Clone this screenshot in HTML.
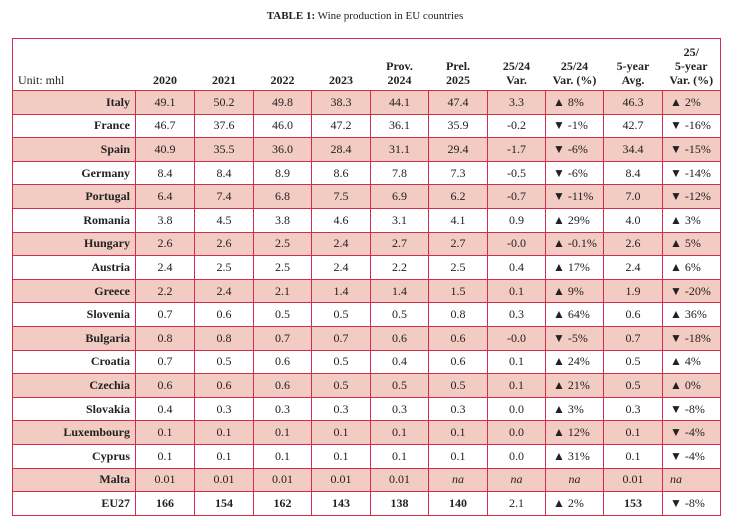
<!DOCTYPE html>
<html><head><meta charset="utf-8"><style>
body{margin:0;width:730px;height:525px;background:#fff;font-family:"Liberation Serif",serif;color:#222;position:relative;overflow:hidden}
.t{position:absolute;top:10px;left:0;width:730px;text-align:center;font-size:11px}
table{position:absolute;left:12px;top:38px;border-collapse:collapse;table-layout:fixed;font-size:12px}
td{border:1.3px solid #d22d4e;height:22.6px;padding:0;text-align:center}
tr.h td{height:48px;border-left:none;border-right:none;vertical-align:bottom;padding-bottom:3px;font-weight:bold;line-height:14px}
tr.h td:first-child{border-left:1.3px solid #d22d4e;text-align:left;font-weight:normal;padding-left:5px}
tr.h td:last-child{border-right:1.3px solid #d22d4e}
td.n{text-align:right;font-weight:bold;padding-right:5px}
td.l{text-align:left;padding-left:7px}
tr.s td{background:#f2cbc2}
tr.h td{background:#fff}
i{font-style:italic}
tr.e td{font-weight:bold}
tr.e td.nb{font-weight:normal}
</style></head><body>
<div class="t"><b>TABLE 1:</b> Wine production in EU countries</div>
<table>
<colgroup><col style="width:123px"><col style="width:59px"><col style="width:59px"><col style="width:58px"><col style="width:59px"><col style="width:58px"><col style="width:59px"><col style="width:58px"><col style="width:58px"><col style="width:59px"><col style="width:58px"></colgroup>
<tr class="h"><td>Unit: mhl</td><td>2020</td><td>2021</td><td>2022</td><td>2023</td><td>Prov.<br>2024</td><td>Prel.<br>2025</td><td>25/24<br>Var.</td><td>25/24<br>Var. (%)</td><td>5-year<br>Avg.</td><td>25/<br>5-year<br>Var. (%)</td></tr>
<tr class="s"><td class="n">Italy</td><td>49.1</td><td>50.2</td><td>49.8</td><td>38.3</td><td>44.1</td><td>47.4</td><td>3.3</td><td class="l">▲ 8%</td><td>46.3</td><td class="l">▲ 2%</td></tr>
<tr><td class="n">France</td><td>46.7</td><td>37.6</td><td>46.0</td><td>47.2</td><td>36.1</td><td>35.9</td><td>-0.2</td><td class="l">▼ -1%</td><td>42.7</td><td class="l">▼ -16%</td></tr>
<tr class="s"><td class="n">Spain</td><td>40.9</td><td>35.5</td><td>36.0</td><td>28.4</td><td>31.1</td><td>29.4</td><td>-1.7</td><td class="l">▼ -6%</td><td>34.4</td><td class="l">▼ -15%</td></tr>
<tr><td class="n">Germany</td><td>8.4</td><td>8.4</td><td>8.9</td><td>8.6</td><td>7.8</td><td>7.3</td><td>-0.5</td><td class="l">▼ -6%</td><td>8.4</td><td class="l">▼ -14%</td></tr>
<tr class="s"><td class="n">Portugal</td><td>6.4</td><td>7.4</td><td>6.8</td><td>7.5</td><td>6.9</td><td>6.2</td><td>-0.7</td><td class="l">▼ -11%</td><td>7.0</td><td class="l">▼ -12%</td></tr>
<tr><td class="n">Romania</td><td>3.8</td><td>4.5</td><td>3.8</td><td>4.6</td><td>3.1</td><td>4.1</td><td>0.9</td><td class="l">▲ 29%</td><td>4.0</td><td class="l">▲ 3%</td></tr>
<tr class="s"><td class="n">Hungary</td><td>2.6</td><td>2.6</td><td>2.5</td><td>2.4</td><td>2.7</td><td>2.7</td><td>-0.0</td><td class="l">▲ -0.1%</td><td>2.6</td><td class="l">▲ 5%</td></tr>
<tr><td class="n">Austria</td><td>2.4</td><td>2.5</td><td>2.5</td><td>2.4</td><td>2.2</td><td>2.5</td><td>0.4</td><td class="l">▲ 17%</td><td>2.4</td><td class="l">▲ 6%</td></tr>
<tr class="s"><td class="n">Greece</td><td>2.2</td><td>2.4</td><td>2.1</td><td>1.4</td><td>1.4</td><td>1.5</td><td>0.1</td><td class="l">▲ 9%</td><td>1.9</td><td class="l">▼ -20%</td></tr>
<tr><td class="n">Slovenia</td><td>0.7</td><td>0.6</td><td>0.5</td><td>0.5</td><td>0.5</td><td>0.8</td><td>0.3</td><td class="l">▲ 64%</td><td>0.6</td><td class="l">▲ 36%</td></tr>
<tr class="s"><td class="n">Bulgaria</td><td>0.8</td><td>0.8</td><td>0.7</td><td>0.7</td><td>0.6</td><td>0.6</td><td>-0.0</td><td class="l">▼ -5%</td><td>0.7</td><td class="l">▼ -18%</td></tr>
<tr><td class="n">Croatia</td><td>0.7</td><td>0.5</td><td>0.6</td><td>0.5</td><td>0.4</td><td>0.6</td><td>0.1</td><td class="l">▲ 24%</td><td>0.5</td><td class="l">▲ 4%</td></tr>
<tr class="s"><td class="n">Czechia</td><td>0.6</td><td>0.6</td><td>0.6</td><td>0.5</td><td>0.5</td><td>0.5</td><td>0.1</td><td class="l">▲ 21%</td><td>0.5</td><td class="l">▲ 0%</td></tr>
<tr><td class="n">Slovakia</td><td>0.4</td><td>0.3</td><td>0.3</td><td>0.3</td><td>0.3</td><td>0.3</td><td>0.0</td><td class="l">▲ 3%</td><td>0.3</td><td class="l">▼ -8%</td></tr>
<tr class="s"><td class="n">Luxembourg</td><td>0.1</td><td>0.1</td><td>0.1</td><td>0.1</td><td>0.1</td><td>0.1</td><td>0.0</td><td class="l">▲ 12%</td><td>0.1</td><td class="l">▼ -4%</td></tr>
<tr><td class="n">Cyprus</td><td>0.1</td><td>0.1</td><td>0.1</td><td>0.1</td><td>0.1</td><td>0.1</td><td>0.0</td><td class="l">▲ 31%</td><td>0.1</td><td class="l">▼ -4%</td></tr>
<tr class="s"><td class="n">Malta</td><td>0.01</td><td>0.01</td><td>0.01</td><td>0.01</td><td>0.01</td><td><i>na</i></td><td><i>na</i></td><td><i>na</i></td><td>0.01</td><td class="l"><i>na</i></td></tr>
<tr class="e"><td class="n">EU27</td><td>166</td><td>154</td><td>162</td><td>143</td><td>138</td><td>140</td><td class="nb">2.1</td><td class="l nb">▲ 2%</td><td>153</td><td class="l nb">▼ -8%</td></tr>
</table>
</body></html>
